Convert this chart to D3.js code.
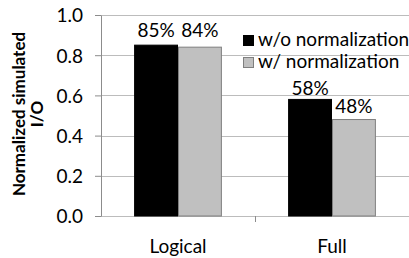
<!DOCTYPE html>
<html>
<head>
<meta charset="utf-8">
<script src="https://cdn.jsdelivr.net/npm/d3@7"></script>
<style>
  body { margin: 0; background: #fff; }
  text { font-family: Lato, "Open Sans", sans-serif; fill: #000; }
</style>
</head>
<body>
<div id="chart"></div>
<script>
// chart data
var categories = ["Logical", "Full"];
var seriesNames = ["w/o normalization", "w/ normalization"];
var woNorm = [0.85, 0.58];
var wNorm = [0.84, 0.48];
var barLabels = [["85%", "84%"], ["58%", "48%"]];
var yTicks = [0, 0.2, 0.4, 0.6, 0.8, 1.0];

var svgWidth = 409;
var svgHeight = 258;
var margin = { top: 15, right: 0, bottom: 42, left: 101 };
var width = svgWidth - margin.left - margin.right;
var height = svgHeight - margin.top - margin.bottom;

var svg = d3.select("#chart").append("svg")
  .attr("width", svgWidth)
  .attr("height", svgHeight);

var chartGroup = svg.append("g")
  .attr("transform", `translate(${margin.left}, ${margin.top})`);

var x0 = d3.scaleBand().domain(categories).range([0, width]).paddingInner(0.43).paddingOuter(0.215);
var x1 = d3.scaleBand().domain(seriesNames).range([0, x0.bandwidth()]);
var y = d3.scaleLinear().domain([0, 1]).range([height, 0]);

// gridlines
chartGroup.append("g")
  .selectAll("line")
  .data(yTicks)
  .enter()
  .append("line")
  .attr("x1", 0)
  .attr("x2", width)
  .attr("y1", d => Math.round(y(d)) + 0.5)
  .attr("y2", d => Math.round(y(d)) + 0.5)
  .attr("stroke", "#bcbcbc");

// y axis
var leftAxis = d3.axisLeft(y).tickValues(yTicks).tickFormat(d3.format(".1f")).tickSizeInner(6).tickSizeOuter(0).tickPadding(12);
var yAxis = chartGroup.append("g").call(leftAxis);
yAxis.select(".domain").attr("stroke", "#8c8c8c");
yAxis.selectAll(".tick line").attr("stroke", "#8c8c8c");
yAxis.selectAll("text").style("font-size", "19px").style("font-family", "Lato, sans-serif").attr("dy", "0.36em");

// x axis tick between the two categories
var midX = (x0(categories[0]) + x0.bandwidth() + x0(categories[1])) / 2;
chartGroup.append("line")
  .attr("x1", Math.round(midX) + 0.5)
  .attr("x2", Math.round(midX) + 0.5)
  .attr("y1", height)
  .attr("y2", height + 6)
  .attr("stroke", "#8c8c8c");

// bars
var rows = categories.map((c, i) => ({ cat: c, vals: [woNorm[i], wNorm[i]], labels: barLabels[i] }));
var colors = ["#000000", "#c0c0c0"];
var strokes = ["#000000", "#7f7f7f"];

var catGroups = chartGroup.selectAll(".cat")
  .data(rows)
  .enter()
  .append("g")
  .attr("transform", d => `translate(${x0(d.cat)}, 0)`);

catGroups.selectAll("rect")
  .data(d => d.vals.map((v, j) => ({ v: v, s: seriesNames[j], j: j })))
  .enter()
  .append("rect")
  .attr("x", d => x1(d.s) + 0.5)
  .attr("y", d => y(d.v))
  .attr("width", x1.bandwidth() - 1)
  .attr("height", d => height - y(d.v))
  .attr("fill", d => colors[d.j])
  .attr("stroke", d => strokes[d.j])
  .attr("stroke-width", 1);

// value labels (offset above each bar top)
var labelOffsets = [[8, 10], [4, 7]];
catGroups.each(function(d, i) {
  d3.select(this).selectAll("text.val")
    .data(d.vals)
    .enter()
    .append("text")
    .attr("class", "val")
    .attr("x", (v, j) => x1(seriesNames[j]) + x1.bandwidth() / 2)
    .attr("y", (v, j) => y(v) - labelOffsets[i][j])
    .attr("text-anchor", "middle")
    .style("font-size", "19px")
    .text((v, j) => d.labels[j]);
});

// category labels
chartGroup.selectAll(".catLabel")
  .data(categories)
  .enter()
  .append("text")
  .attr("x", d => x0(d) + x0.bandwidth() / 2)
  .attr("y", height + 37)
  .attr("text-anchor", "middle")
  .style("font-size", "19px")
  .text(d => d);

// y axis title
var yTitle = svg.append("text")
  .attr("transform", "rotate(-90)")
  .attr("text-anchor", "middle")
  .style("font-size", "17px")
  .style("font-weight", "bold");
yTitle.append("tspan").attr("x", -114).attr("y", 25).text("Normalized simulated");
yTitle.append("tspan").attr("x", -114).attr("y", 43).text("I/O");

// legend
var legend = svg.append("g").attr("transform", "translate(243, 35)");
seriesNames.forEach(function(name, i) {
  var g = legend.append("g").attr("transform", `translate(0, ${i * 22})`);
  g.append("rect")
    .attr("x", 0.5).attr("y", 0.5)
    .attr("width", 10).attr("height", 10)
    .attr("fill", colors[i])
    .attr("stroke", strokes[i]);
  g.append("text")
    .attr("x", 15)
    .attr("y", 11)
    .style("font-size", "19px")
    .text(name);
});
</script>
</body>
</html>
